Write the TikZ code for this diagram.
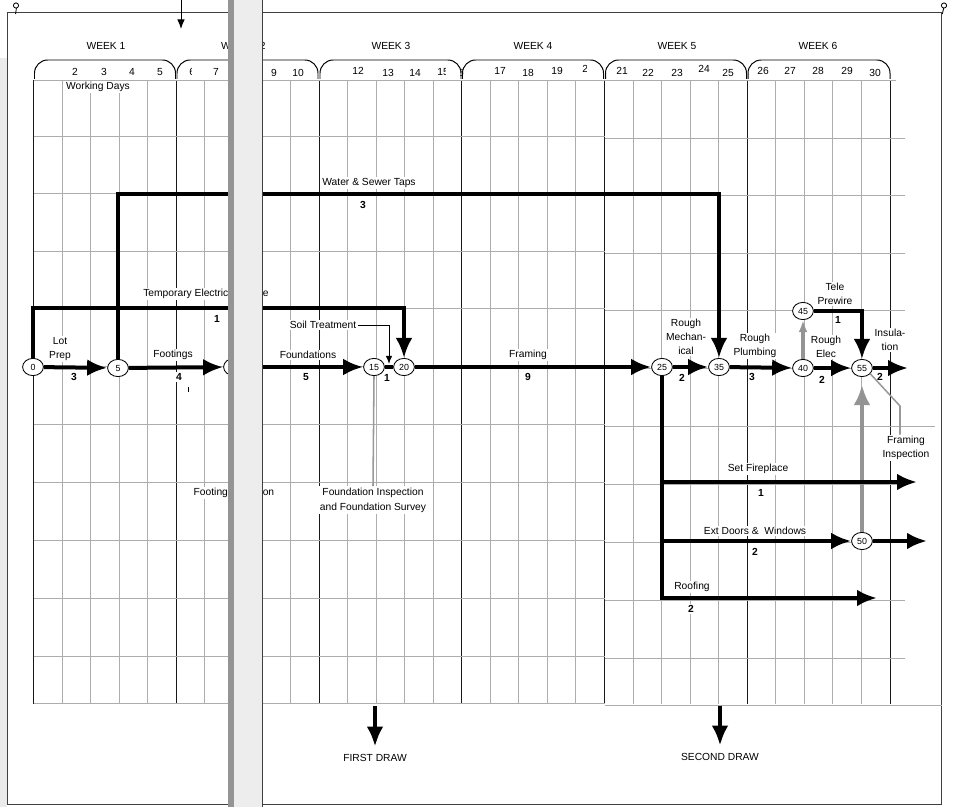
\documentclass[tikz,border=0pt]{standalone}
\usepackage{fontspec}
\setmainfont{Liberation Sans}
\usetikzlibrary{arrows.meta,shapes.geometric}

\begin{document}
\begin{tikzpicture}[
  x=0.025cm, y=-0.025cm,
  font=\fontsize{7.3}{9.8}\selectfont,
  >={Latex[length=0.5cm,width=0.42cm]},
  gridline/.style={black!32,line width=0.7pt},
  weekline/.style={black!90,line width=0.6pt},
  bracket/.style={line width=0.7pt,rounded corners=0.33cm},
  daynum/.style={inner sep=0pt},
  event/.style={draw,ellipse,fill=white,inner sep=0pt,minimum width=0.52cm,minimum height=0.43cm,line width=0.6pt,font=\fontsize{6.3}{7}\selectfont},
  flow/.style={->,line width=0.1cm},
  link/.style={line width=0.1cm},
  grayflow/.style={->,line width=0.1cm,black!42},
  task/.style={fill=white,inner sep=1pt,align=center},
  dur/.style={fill=white,inner sep=0.8pt,font=\fontsize{7.3}{9}\selectfont\bfseries},
  pointer/.style={black!40,line width=1.1pt},
  thinarrow/.style={-{Latex[length=0.2cm,width=0.16cm]},line width=0.7pt},
  panel/.style={black!75,line width=0.7pt}
]
\useasboundingbox (0,0) rectangle (953,807);

% sheet margin, page borders and pins
\fill[black!8] (0,58) rectangle (6.5,807);
\draw[panel] (228,12) -- (7,12) -- (7,804) -- (228,804);
\draw[panel] (262,12) -- (941,12) -- (941,804) -- (262,804);
\draw[line width=0.6pt] (16,5.5) circle (2.6) (16.4,8.1) -- (15.6,14);
\draw[line width=0.6pt] (944,5.5) circle (2.6) (943.6,8.1) -- (942.4,14);
\coordinate (topin) at (181,0);
\coordinate (topout) at (181,29);
\draw[-{Latex[length=0.24cm,width=0.19cm]},line width=0.7pt] (topin) -- (topout);

% day grid: one column per working day, darker line every week
\foreach \i in {0,...,30}
  \draw[gridline] ({33.5+28.55*\i},80) -- ({33.5+28.55*\i},704);
\foreach \i in {0,5,...,30}
  \draw[weekline] ({33.5+28.55*\i},80) -- ({33.5+28.55*\i},704);
\draw[gridline] (33.5,80) -- (896,80);
\foreach \y in {136,193,251,308,366,424,482,540,598,656}
  \draw[gridline] (33.5,\y) -- (604.5,\y);
\foreach \y in {138,195,253,310,368,484,542,600,658}
  \draw[gridline] (604.5,\y) -- (905,\y);
\draw[gridline] (604.5,426) -- (935,426);
\draw[gridline] (33.5,703) -- (604.5,703);
\draw[gridline] (604.5,705) -- (942,705);

% week brackets and day numbers
\foreach \a/\b in {34.5/175.5,177/318,320/461,462.5/603.5,605.5/746.5,748/890}
  \draw[bracket] (\a,79) -- (\a,60) -- (\b,60) -- (\b,79);
\foreach \w/\x in {1/106,3/391,4/533,5/677,6/818}
  \node at (\x,46) {WEEK \w};
\node[inner sep=0pt,anchor=east] at (231,46) {W};
\node[inner sep=0pt,anchor=west] at (259.5,46) {2};
\foreach \d/\x/\y in {2/75/72,3/104/72,4/132/72,5/160/72,7/216/72,9/274/73,10/298/73,
    12/358/71,13/388/73,14/415/73,17/500/71,18/528/73,19/557/71,
    21/622/71,22/648/73,23/677/73,24/704/69,25/728/73,
    26/763/71,27/790/71,28/818/71,29/847/71,30/875/73}
  \node[daynum] at (\x,\y) {\d};
\begin{scope}
  \clip (186,62) rectangle (191.2,80);
  \node[daynum] at (192.3,72) {6};
\end{scope}
\begin{scope}
  \clip (430,62) rectangle (445.5,80);
  \node[daynum] at (443,72) {15};
\end{scope}
\begin{scope}
  \clip (460,62) rectangle (470,80);
  \node[daynum] at (458,73) {16};
\end{scope}
\begin{scope}
  \clip (575,62) rectangle (586.2,80);
  \node[daynum] at (588,69) {20};
\end{scope}
\node[task] (wdays) at (98,87) {Working Days};

% events
\node[event] (n0) at (33,367) {0};
\node[event] (n5) at (118,368) {5};
\node[event] (n10) at (234,367) {10};
\node[event] (n15) at (374,367) {15};
\node[event] (n20) at (404,367) {20};
\node[event] (n25) at (662,367) {25};
\node[event] (n35) at (719,367) {35};
\node[event] (n40) at (803,368) {40};
\node[event] (n45) at (803,311) {45};
\node[event] (n55) at (862,368) {55};
\node[event] (n50) at (862,541) {50};

\coordinate (tebend) at (404,308);
\coordinate (wsbend) at (719,194);
\coordinate (insout) at (908,368);
\coordinate (sfend) at (917,482);
\coordinate (dwout) at (927,541);
\coordinate (rfend) at (877,598);

% inspections and tele prewire feed (grey)
\draw[grayflow,shorten >=0.2cm] (n50.north) -- (n55.south);
\draw[grayflow,-{Latex[length=0.3cm,width=0.22cm]}] (n40.north) -- (n45.south);

% activities
\draw[flow] (n0) -- (n5);
\draw[flow] (n5) -- (n10);
\draw[flow] (n10) -- (n15);
\draw[link] (n15) -- (n20);
\draw[flow] (n20) -- (n25);
\draw[flow] (n25) -- (n35);
\draw[flow] (n35) -- (n40);
\draw[flow] (n40) -- (n55);
\draw[flow] (n55) -- (insout);
\draw[flow] (n0.north) |- (tebend) -- (n20.north);
\draw[flow] (n5.north) |- (wsbend) -- (n35.north);
\draw[flow] (n45.east) -| (n55.north);
\draw[flow] (n25.south) |- (rfend);
\draw[flow] (n25 |- sfend) -- (sfend);
\draw[flow] (n25 |- n50) -- (n50.west);
\draw[flow] (n50.east) -- (dwout);
\draw[line width=0.6pt] (188,387) -- (188,392);

% activity names
\node[task] (tlot) at (60,349) {Lot\\Prep};
\node[task] (tfoot) at (173,355) {Footings};
\node[task] (tfound) at (308,355) {Foundations};
\node[task] (tsoil) at (323,325) {Soil Treatment};
\node[task] (tfram) at (528,355) {Framing};
\node[task] (trmech) at (686,337) {Rough\\Mechan-\\ical};
\node[task] (trplum) at (755,346) {Rough\\Plumbing};
\node[task] (trelec) at (826,347) {Rough\\Elec};
\node[task] (tins) at (890,340) {Insula-\\tion};
\node[task] (ttele) at (835,294) {Tele\\Prewire};
\node[task] (twater) at (369,183) {Water \& Sewer Taps};
\node[task,anchor=east] (ttemp) at (230,294) {Temporary Electric};
\node[task,anchor=west,inner sep=0pt] (ttempb) at (262.5,294) {e};
\node[task] (tfire) at (758,469) {Set Fireplace};
\node[task] (tdoor) at (755,531) {Ext Doors \&\ \ Windows};
\node[task] (troof) at (692,587) {Roofing};
\node[task,font=\fontsize{7.3}{10.6}\selectfont] (tfdinsp) at (373,500) {Foundation Inspection\\and Foundation Survey};
\node[task,anchor=west] (tftinsp) at (192,493) {Footing};
\node[task,anchor=west,inner sep=0pt] (tftinspb) at (262.5,493) {on};
\node[task] (tfrinsp) at (906,448) {Framing\\Inspection};

% durations in working days
\node[dur] (d05) at (74,377) {3};
\node[dur] (d510) at (179,377) {4};
\node[dur] (d1015) at (306,377) {5};
\node[dur] (d1520) at (387,378) {1};
\node[dur] (d2025) at (528,377) {9};
\node[dur] (d2535) at (682,378) {2};
\node[dur] (d3540) at (752,377) {3};
\node[dur] (d4055) at (822,380) {2};
\node[dur] (d55) at (880,377) {2};
\node[dur] (dtele) at (838,320) {1};
\node[dur] (dtemp) at (217,319) {1};
\node[dur] (dwater) at (363,205) {3};
\node[dur] (dfire) at (761,493) {1};
\node[dur] (ddoor) at (755,552) {2};
\node[dur] (droof) at (691,609) {2};

% pointers from the notes
\coordinate (soiltip) at (389,364);
\coordinate (frbend) at (900,406);
\draw[thinarrow] (tsoil.east) -| (soiltip);
\draw[pointer] (n55.-35) -- (frbend) -- (frbend |- tfrinsp.north);
\draw[pointer] (n15.south) -- (tfdinsp.north);

% draws
\coordinate (fdtop) at (375,706);
\coordinate (sdtop) at (720,706);
\node (firstdraw) at (375,758) {FIRST DRAW};
\node (seconddraw) at (720,757) {SECOND DRAW};
\draw[flow,shorten >=2pt] (fdtop) -- (firstdraw.north);
\draw[flow,shorten >=2pt] (sdtop) -- (seconddraw.north);

% binding gutter between the two sheets
\fill[black!42] (228,0) rectangle (233.5,807);
\fill[black!7] (233.5,0) rectangle (262,807);
\draw[panel] (262,0) -- (262,807);

\end{tikzpicture}
\end{document}
